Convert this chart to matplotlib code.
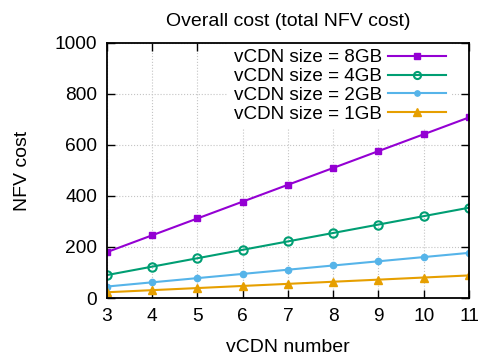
import matplotlib
matplotlib.use('Agg')
import matplotlib.pyplot as plt

plt.rcParams['font.family'] = ['Liberation Sans', 'DejaVu Sans']

vcdn_number = [3, 4, 5, 6, 7, 8, 9, 10, 11]
cost_8gb = [180, 246, 312, 378, 444, 510, 576, 642, 708]
cost_4gb = [90, 123, 156, 189, 222, 255, 288, 321, 354]
cost_2gb = [45, 61.5, 78, 94.5, 111, 127.5, 144, 160.5, 177]
cost_1gb = [22.5, 30.8, 39, 47.3, 55.5, 63.8, 72, 80.3, 88.5]

fig = plt.figure(figsize=(4.85, 3.61), dpi=100)
ax = fig.add_axes([0.2206, 0.1745, 0.7464, 0.7065])

ax.plot(vcdn_number, cost_8gb, color='#9400d3', lw=1.5, marker='s', ms=5,
        label='vCDN size = 8GB')
ax.plot(vcdn_number, cost_4gb, color='#009e73', lw=1.5, marker='o', ms=6,
        mfc='none', mew=1.5, label='vCDN size = 4GB')
ax.plot(vcdn_number, cost_2gb, color='#56b4e9', lw=1.5, marker='o', ms=4.5,
        label='vCDN size = 2GB')
ax.plot(vcdn_number, cost_1gb, color='#e69f00', lw=1.5, marker='^', ms=6,
        label='vCDN size = 1GB')

ax.set_xlim(3, 11)
ax.set_ylim(0, 1000)
ax.set_xticks(vcdn_number)
ax.set_yticks(range(0, 1001, 200))
ax.grid(True, color='#c4c4c4', ls=':', lw=0.8)
ax.set_axisbelow(True)
ax.tick_params(direction='in', top=True, right=True, length=6, width=1,
               labelsize=13.8, pad=7)
for s in ax.spines.values():
    s.set_linewidth(1.3)

ax.set_xlabel('vCDN number', fontsize=14, labelpad=10)
ax.set_ylabel('NFV cost', fontsize=14, labelpad=17)
ax.set_title('Overall cost (total NFV cost)', fontsize=14, pad=12)

leg = ax.legend(loc='upper right', bbox_to_anchor=(0.954, 1.0), markerfirst=False,
                frameon=True, fancybox=False, edgecolor='none', framealpha=1,
                fontsize=13.6, handlelength=3.1, labelspacing=0.08,
                borderpad=0.33, handletextpad=0.3, borderaxespad=0,
                markerscale=0.85)
leg.set_zorder(1.5)

fig.savefig('out.png', dpi=100)
